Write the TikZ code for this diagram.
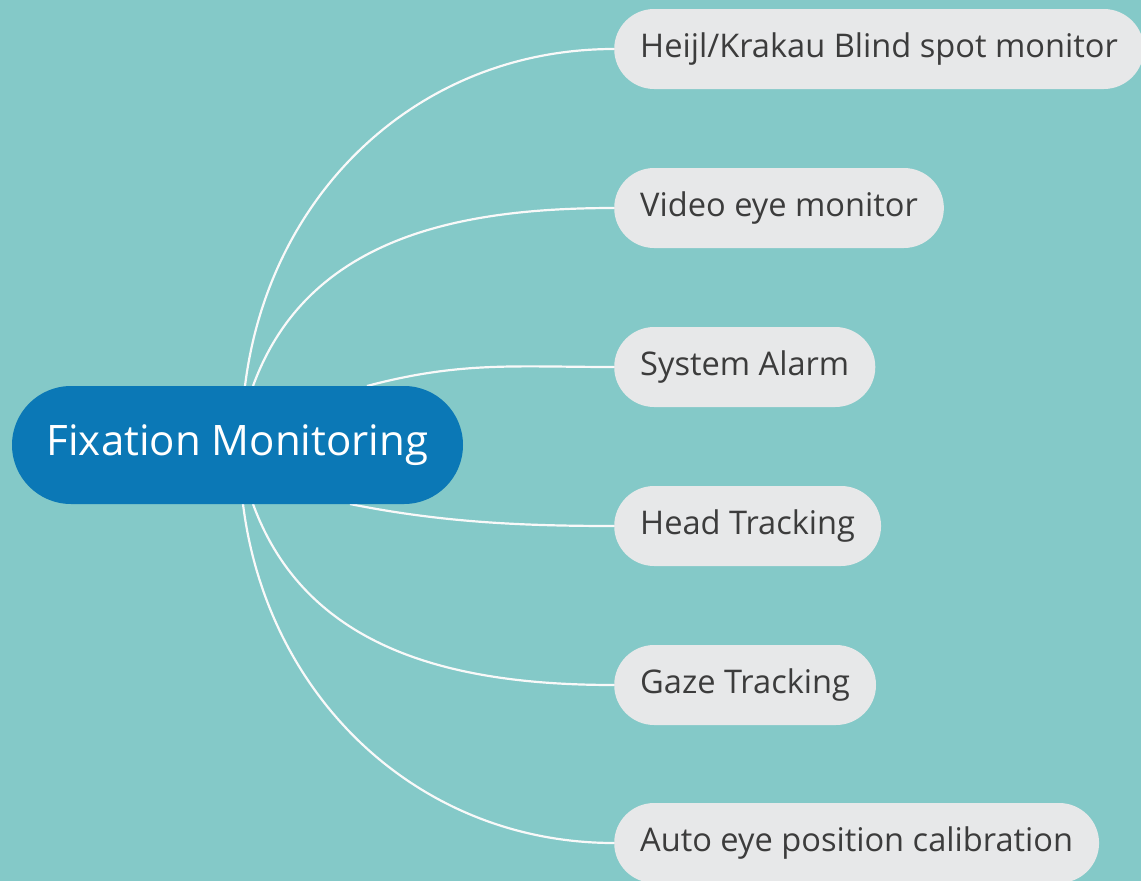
\documentclass[tikz,border=0pt]{standalone}
\usepackage{fontspec}
\setmainfont{Open Sans}
\definecolor{bgteal}{HTML}{84C9C8}
\definecolor{rootblue}{HTML}{0B78B6}
\definecolor{leafgray}{HTML}{E7E8E9}
\definecolor{leaftext}{HTML}{3C3C3C}
\begin{document}
\begin{tikzpicture}[x=1pt,y=-1pt,
  root/.style={fill=rootblue,text=white,rounded corners=59pt,minimum width=451pt,minimum height=118pt,font=\fontsize{42}{48}\selectfont},
  leaf/.style={fill=leafgray,text=leaftext,rounded corners=40pt,minimum height=80pt,inner xsep=26pt,anchor=west,font=\fontsize{32.6}{38}\selectfont},
  branch/.style={draw=white!95!gray,line width=2.2pt}]
\fill[bgteal] (0,0) rectangle (1141,881);
\useasboundingbox (0,0) rectangle (1141,881);
% branches first, boxes on top
\node[leaf] (heijl) at (614,49) {Heijl/Krakau Blind spot monitor};
\node[leaf] (video) at (614,208) {Video eye monitor};
\node[leaf] (alarm) at (614,367) {System Alarm};
\node[leaf] (head) at (614,526) {Head Tracking};
\node[leaf] (gaze) at (614,685) {Gaze Tracking};
\node[leaf] (auto) at (614,843) {Auto eye position calibration};
\draw[branch] ([xshift=7.5pt]237.5,386) .. controls +(24,-194) and +(-195,0) .. (heijl.west);
\draw[branch] ([xshift=15.5pt]237.5,386) .. controls +(54,-148) and +(-157,0) .. (video.west);
\draw[branch] ([xshift=129.5pt]237.5,386) .. controls +(94,-25) and +(-97,0) .. (alarm.west);
\draw[branch] ([xshift=112.5pt]237.5,504) .. controls +(90,18) and +(-95,0) .. (head.west);
\draw[branch] ([xshift=15.5pt]237.5,504) .. controls +(54,148) and +(-157,0) .. (gaze.west);
\draw[branch] ([xshift=5.5pt]237.5,504) .. controls +(24,194) and +(-195,0) .. (auto.west);
\node[root] (fix) at (237.5,445) {Fixation Monitoring};
\end{tikzpicture}
\end{document}
